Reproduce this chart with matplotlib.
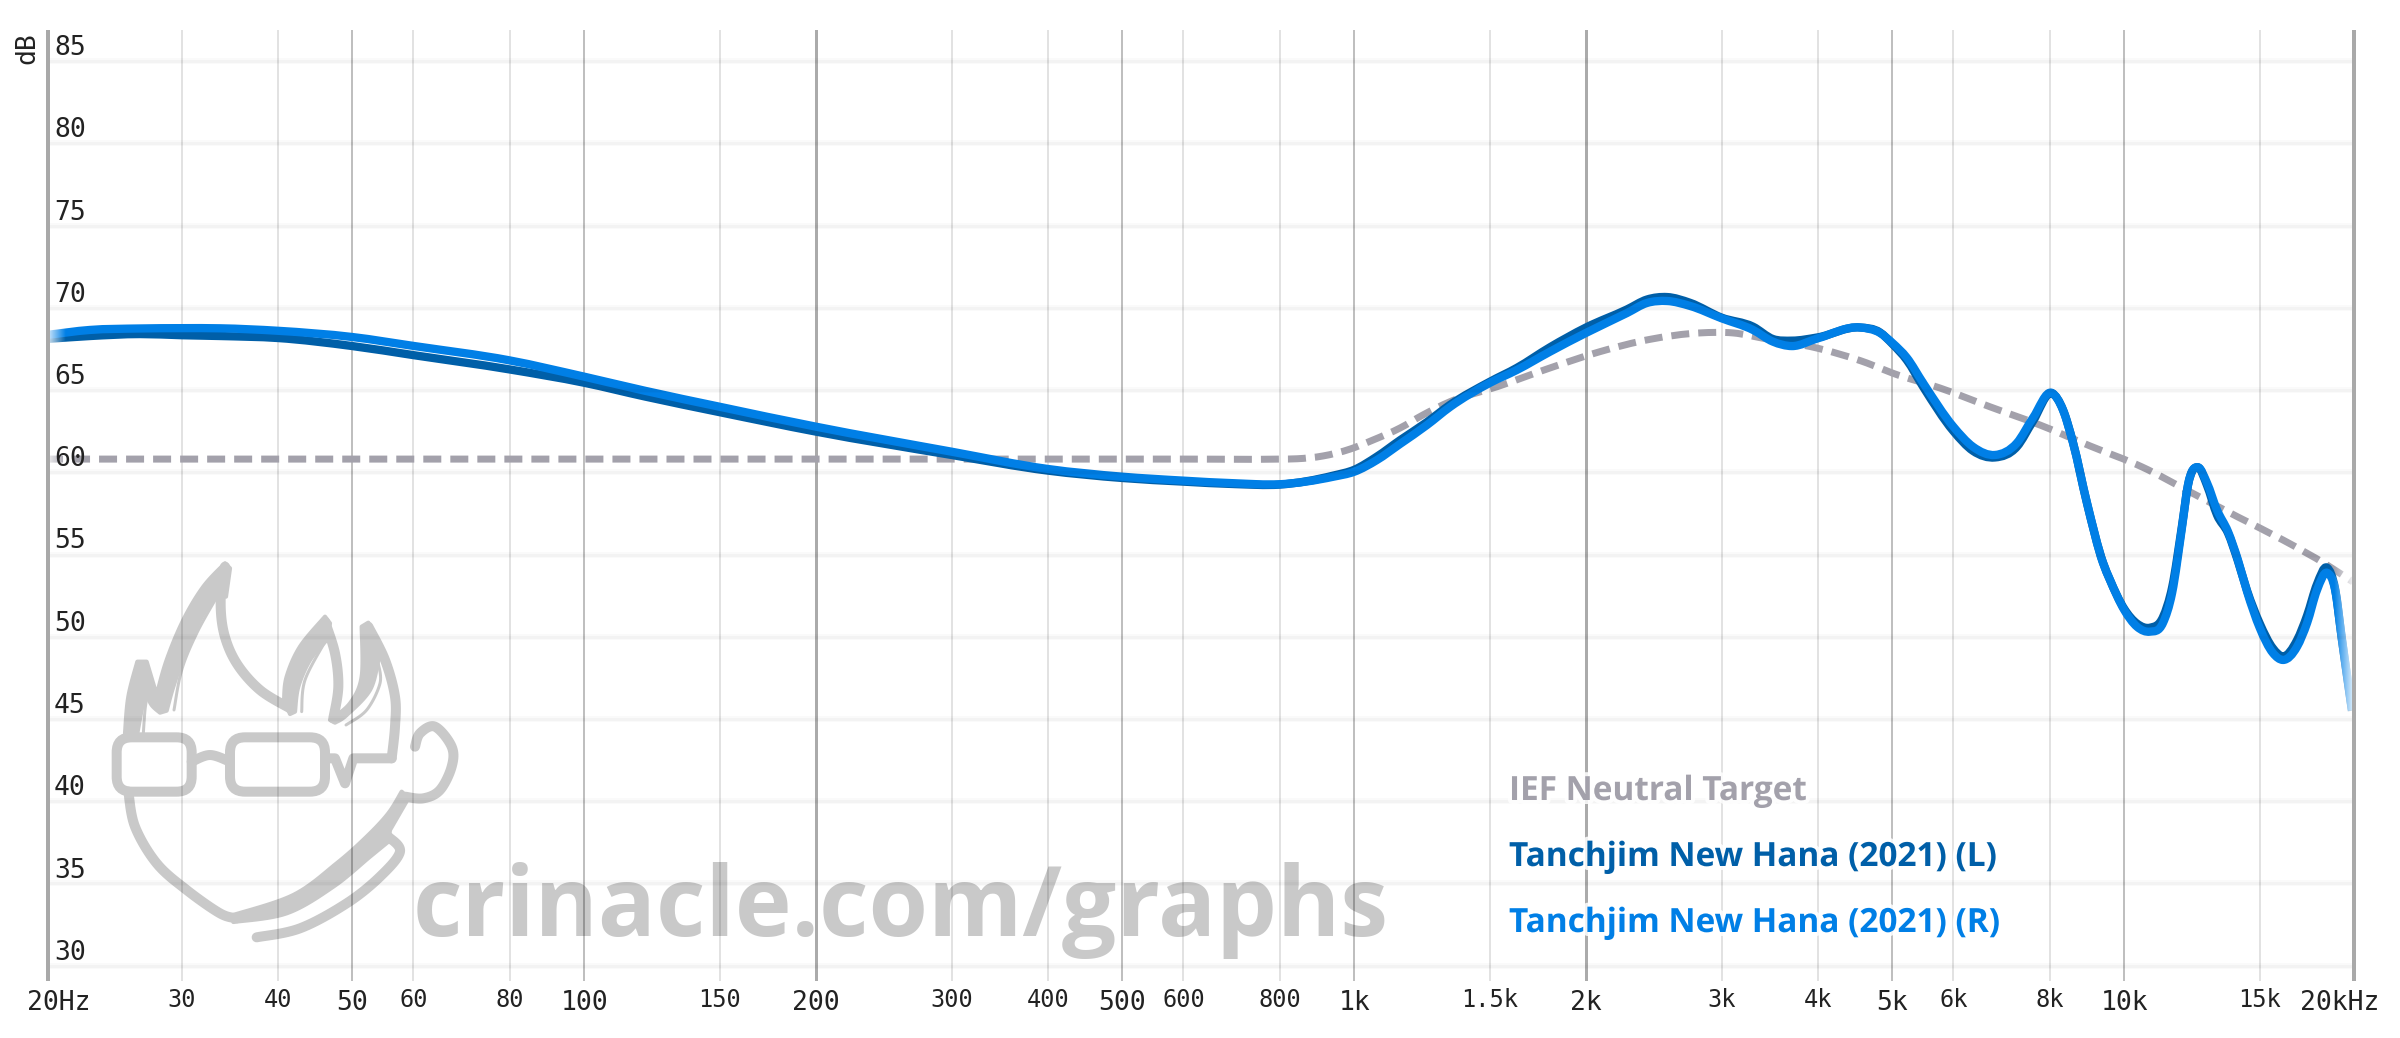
import numpy as np
import matplotlib
matplotlib.use('Agg')
import matplotlib.pyplot as plt
import matplotlib.patheffects as pe
from matplotlib.patches import FancyBboxPatch, Polygon, PathPatch
from matplotlib.path import Path

# frequency axis shared by both channels (Hz)
freq = [20, 22.8, 26.5, 30, 33.7, 40, 50, 60, 80, 100, 120, 150, 200, 300, 400, 500, 600, 700, 800, 940,
        1000, 1070, 1147, 1243, 1332, 1500, 1627, 1796, 2000, 2261, 2400, 2549, 2730, 3000, 3296, 3498,
        3703, 4000, 4538, 4818, 5000, 5223, 5480, 6000, 6362, 6795, 7255, 7611, 8058, 8327, 8581, 8948,
        9387, 9584, 10000, 10390, 10800, 11230, 11540, 11890, 12100, 12470, 12810, 13200, 13640, 14050,
        14440, 15000, 15600, 16080, 16770, 17280, 17800, 18340, 18790, 19180, 19760]
right_db = [68.34, 68.65, 68.74, 68.76, 68.75, 68.6, 68.22, 67.68, 66.8, 65.81, 64.95, 63.98, 62.77, 61.25,
            60.2, 59.73, 59.49, 59.33, 59.27, 59.73, 60.03, 60.74, 61.72, 62.87, 63.97, 65.43, 66.22, 67.33,
            68.47, 69.68, 70.29, 70.41, 70.11, 69.36, 68.65, 67.94, 67.67, 68.14, 68.8, 68.47, 67.86, 66.95,
            65.43, 62.77, 61.55, 61.05, 61.78, 63.3, 64.82, 63.78, 61.78, 58.13, 54.48, 53.45, 51.63, 50.61,
            50.31, 50.84, 52.66, 56.69, 59.22, 60.3, 59.35, 57.7, 56.39, 54.67, 52.74, 50.53, 49.01, 48.59,
            49.4, 50.84, 52.84, 53.89, 52.84, 49.8, 45.55]
left_db = [68.1, 68.28, 68.4, 68.33, 68.28, 68.16, 67.67, 67.12, 66.25, 65.44, 64.6, 63.65, 62.47, 61.05,
           60.1, 59.65, 59.43, 59.28, 59.25, 59.8, 60.15, 60.95, 61.95, 63.05, 64.1, 65.5, 66.35, 67.6,
           68.8, 69.9, 70.5, 70.65, 70.3, 69.4, 68.85, 68.1, 68.0, 68.2, 68.8, 68.5, 67.8, 66.8,
           65.2, 62.5, 61.3, 60.9, 61.55, 63.1, 64.8, 63.8, 61.8, 58.1, 54.5, 53.45, 51.7, 50.8,
           50.55, 51.2, 53.0, 56.8, 59.2, 60.3, 59.2, 57.4, 56.3, 54.6, 52.8, 50.8, 49.3, 48.8,
           49.8, 51.3, 53.2, 54.2, 52.9, 49.8, 45.5]

target_freq = [20, 100, 300, 600, 800, 843, 911, 988, 1058, 1147, 1228, 1332, 1533, 1796, 2085, 2422, 2812,
               3104, 3436, 3990, 4634, 5000, 5765, 6693, 7775, 9028, 10550, 12250, 14050, 16080, 18340, 19820]
target_db = [60.8, 60.8, 60.8, 60.8, 60.8, 60.82, 60.99, 61.41, 61.96, 62.69, 63.48, 64.29, 65.2, 66.34, 67.33,
             68.08, 68.47, 68.47, 68.1, 67.55, 66.64, 66.03, 65.12, 63.98, 62.87, 61.6, 60.32, 58.74, 57.28,
             55.88, 54.36, 53.33]

db_ticks = [85, 80, 75, 70, 65, 60, 55, 50, 45, 40, 35, 30]
big_ticks = [(50, '50'), (100, '100'), (200, '200'), (500, '500'), (1000, '1k'), (2000, '2k'), (5000, '5k'), (10000, '10k')]
small_ticks = [(30, '30'), (40, '40'), (60, '60'), (80, '80'), (150, '150'), (300, '300'), (400, '400'), (600, '600'),
               (800, '800'), (1500, '1.5k'), (3000, '3k'), (4000, '4k'), (6000, '6k'), (8000, '8k'), (15000, '15k')]

W, H = 2400, 1038
PX = 0.72  # one pixel in points at dpi 100
TARGET_C = '#a3a1ab'
LEFT_C = '#005fa8'
RIGHT_C = '#007fe6'
MARK_C = '#c9c9c9'
MONO = 'DejaVu Sans Mono'

fig = plt.figure(figsize=(W / 100, H / 100), dpi=100, facecolor='white')


def rect(x0, y0, x1, y1):
    return [x0 / W, 1 - y1 / H, (x1 - x0) / W, (y1 - y0) / H]


# watermark sits behind the chart
bg = fig.add_axes([0, 0, 1, 1], zorder=0)
bg.set_xlim(0, W)
bg.set_ylim(H, 0)
bg.axis('off')
bg.text(413, 936, 'crinacle.com/graphs', family='Open Sans', weight='bold', fontsize=69.2, color=MARK_C, va='baseline')

logo = fig.add_axes(rect(60, 520, 560, 1038), zorder=0)
logo.set_xlim(0, 1500)
logo.set_ylim(1554, 0)
logo.axis('off')


def smooth(pts, n=12):
    p = np.array(pts, float)
    if len(p) < 3:
        return p
    p = np.vstack([p[0], p, p[-1]])
    out = []
    for i in range(1, len(p) - 2):
        for t in np.linspace(0, 1, n, endpoint=False):
            out.append(0.5 * (2 * p[i] + (p[i + 1] - p[i - 1]) * t
                              + (2 * p[i - 1] - 5 * p[i] + 4 * p[i + 1] - p[i + 2]) * t ** 2
                              + (3 * p[i] - p[i - 1] - 3 * p[i + 1] + p[i + 2]) * t ** 3))
    out.append(p[-1])
    return np.array(out)


def stroke(pts, lw=30, curve=True):
    q = smooth(pts) if curve else np.array(pts)
    logo.plot(q[:, 0], q[:, 1], color=MARK_C, lw=lw / 3 * PX, solid_capstyle='round', solid_joinstyle='round')


def fill(*segs):
    q = np.vstack([smooth(s) for s in segs])
    logo.add_patch(Polygon(q, closed=True, facecolor=MARK_C, edgecolor=MARK_C, lw=3, joinstyle='round'))


# hair flames and jaw band
fill([(195, 640), (205, 530), (232, 425)], [(260, 425), (290, 525)],
     [(290, 525), (320, 420), (370, 300), (430, 200), (495, 130)], [(510, 145), (498, 230)],
     [(468, 225), (420, 300), (375, 400), (340, 500), (320, 572)], [(300, 578), (275, 555), (258, 520)],
     [(258, 520), (245, 570), (232, 640)])
fill([(672, 540), (680, 470), (720, 380), (795, 290)], [(810, 310), (800, 360)],
     [(800, 360), (750, 420), (715, 500), (705, 575)], [(690, 582), (672, 540)])
fill([(810, 600), (870, 550), (905, 470), (905, 320)], [(925, 308), (955, 420)],
     [(955, 420), (930, 510), (860, 585), (825, 608)])
fill([(520, 1206), (680, 1180), (820, 1100), (930, 1010), (985, 965)], [(990, 930), (1045, 835)],
     [(1025, 815), (985, 880), (920, 950), (830, 1030), (700, 1125), (520, 1185)])

stroke([(342, 570), (365, 450), (410, 340), (468, 235)], 9)
stroke([(725, 575), (735, 480), (795, 365)], 9)
stroke([(858, 615), (920, 570), (960, 490), (955, 430)], 9)
stroke([(250, 640), (255, 570), (262, 525)], 9)
stroke([(495, 140), (482, 240), (492, 340), (530, 430), (600, 510), (690, 565)])
stroke([(795, 305), (825, 400), (835, 500), (820, 595)])
stroke([(925, 320), (975, 420), (1005, 530), (1005, 620), (995, 715)])
stroke([(995, 715), (880, 715), (855, 790), (825, 715), (805, 715)], curve=False)
stroke([(395, 725), (450, 705), (510, 725)])
stroke([(205, 815), (225, 920), (290, 1030), (380, 1110), (480, 1180), (530, 1195)])
stroke([(590, 1252), (720, 1225), (860, 1150), (960, 1070), (1020, 995), (985, 950)])
stroke([(1065, 680), (1080, 640), (1125, 620), (1175, 680), (1175, 740), (1140, 810), (1090, 835), (1035, 830)])
for x0, x1 in [(170, 395), (510, 795)]:
    logo.add_patch(FancyBboxPatch((x0, 652), x1 - x0, 163, boxstyle='round,pad=0,rounding_size=45',
                                  facecolor='none', edgecolor=MARK_C, lw=30 / 3 * PX))

# chart
ax = fig.add_axes(rect(46, 30, 2356, 981), zorder=1)
ax.patch.set_alpha(0)
ax.set_xscale('log')
for s in ax.spines.values():
    s.set_visible(False)
ax.tick_params(which='both', length=0, labelbottom=False, labelleft=False)
ax.minorticks_off()

for f, _ in small_ticks:
    ax.axvline(f, color='black', alpha=0.14, lw=1.6 * PX, zorder=1)
for f in [50, 100, 500, 1000, 5000, 10000]:
    ax.axvline(f, color='black', alpha=0.25, lw=2 * PX, zorder=1)
for f in [200, 2000]:
    ax.axvline(f, color='black', alpha=0.33, lw=3 * PX, zorder=1)
# soft grid: wide faint band with a narrower one on top
for d in db_ticks:
    ax.axhline(d, color='black', alpha=0.018, lw=6 * PX, zorder=3)
    ax.axhline(d, color='black', alpha=0.026, lw=3 * PX, zorder=3)


def curve_path(fs, ys):
    # cubic segments through the read points, x taken in log10 so the curve stays round on the log axis
    x = np.log10(fs)
    y = np.array(ys, float)
    m = np.gradient(y, x)
    verts = [(x[0], y[0])]
    for i in range(len(x) - 1):
        dx = x[i + 1] - x[i]
        verts.append((x[i] + dx / 3, y[i] + m[i] * dx / 3))
        verts.append((x[i + 1] - dx / 3, y[i + 1] - m[i + 1] * dx / 3))
        verts.append((x[i + 1], y[i + 1]))
    verts = np.array(verts)
    verts[:, 0] = 10 ** verts[:, 0]
    codes = [Path.MOVETO] + [Path.CURVE4] * (len(verts) - 1)
    return Path(verts, codes)


ax.add_patch(PathPatch(curve_path(target_freq, target_db), facecolor='none', edgecolor=TARGET_C, lw=7 * PX,
                       ls=(0.14, (2.57, 1.29)), capstyle='butt', zorder=2))
ax.add_patch(PathPatch(curve_path(freq, left_db), facecolor='none', edgecolor=LEFT_C, lw=8.3 * PX, joinstyle='round',
                       capstyle='butt', zorder=2.1))
ax.add_patch(PathPatch(curve_path(freq, right_db), facecolor='none', edgecolor=RIGHT_C, lw=8.3 * PX, joinstyle='round',
                       capstyle='butt', zorder=2.2))

# curves fade out at both ends
fade = np.zeros((1, 64, 4))
fade[..., :3] = 1
fade[0, :, 3] = np.linspace(0.9, 0, 64)
ax.imshow(fade, extent=(0, 20 / 2310, 0, 1), transform=ax.transAxes, aspect='auto', zorder=2.5)
fade2 = np.zeros((1, 64, 4))
fade2[..., :3] = 1
fade2[0, :, 3] = np.linspace(0, 1, 64)
ax.imshow(fade2, extent=((2334 - 46) / 2310, 1, 0, 1), transform=ax.transAxes, aspect='auto', zorder=2.5)
ax.set_xlim(20, 20000)
ax.set_ylim(85 - (981 - 61) / 16.45, 85 + (61 - 30) / 16.45)

for f in [20, 20000]:
    ax.axvline(f, color='#a9a9a9', lw=8 * PX, zorder=4)

# tick labels
x_tr = ax.get_xaxis_transform()
y_tr = ax.get_yaxis_transform()
for d in db_ticks:
    ax.annotate(str(d), (0, d), xycoords=y_tr, xytext=(8, 6), textcoords='offset pixels', family=MONO, fontsize=19,
                color='#222222', ha='left', va='baseline', annotation_clip=False, zorder=5)
for f, lab in small_ticks:
    ax.annotate(lab, (f, 0), xycoords=x_tr, xytext=(0, -26), textcoords='offset pixels', family=MONO, fontsize=17,
                color='#222222', ha='center', va='baseline', annotation_clip=False)
for f, lab in big_ticks:
    ax.annotate(lab, (f, 0), xycoords=x_tr, xytext=(0, -29), textcoords='offset pixels', family=MONO, fontsize=19,
                color='#222222', ha='center', va='baseline', annotation_clip=False)
ax.annotate('20Hz', (20, 0), xycoords=x_tr, xytext=(13, -29), textcoords='offset pixels', family=MONO, fontsize=19,
            color='#222222', ha='center', va='baseline', annotation_clip=False)
ax.annotate('20kHz', (20000, 0), xycoords=x_tr, xytext=(-16, -29), textcoords='offset pixels', family=MONO, fontsize=19,
            color='#222222', ha='center', va='baseline', annotation_clip=False)
ax.annotate('dB', (0, 1), xycoords='axes fraction', xytext=(-6, -2), textcoords='offset pixels', family=MONO, fontsize=19,
            color='#222222', rotation=90, ha='right', va='top', annotation_clip=False)

# legend labels, white halo cuts the grid
halo = [pe.withStroke(linewidth=8 * PX, foreground='white', alpha=0.85)]
for lab, c, yb in [('IEF Neutral Target', TARGET_C, 800), ('Tanchjim New Hana (2021) (L)', LEFT_C, 866),
                   ('Tanchjim New Hana (2021) (R)', RIGHT_C, 932)]:
    t = ax.text(1509 / W, 1 - yb / H, lab, transform=fig.transFigure, family='Open Sans', weight='bold', fontsize=24,
                color=c, va='baseline', zorder=6)
    t.set_path_effects(halo)

fig.savefig('out.png', dpi=100, facecolor='white')
